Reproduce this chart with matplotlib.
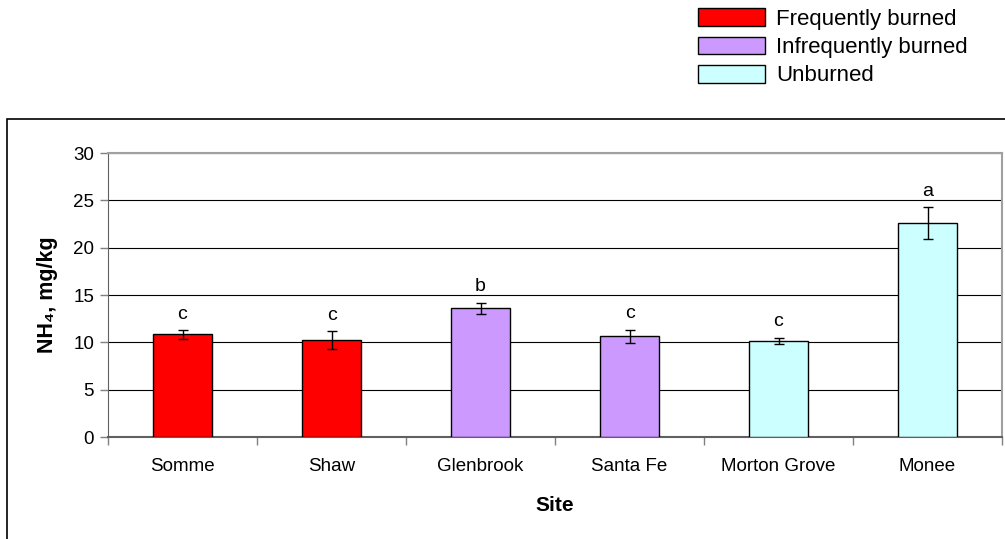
import matplotlib
matplotlib.use("Agg")
import matplotlib.pyplot as plt
from matplotlib.patches import Patch, Rectangle
import numpy as np

# NH4 by site
sites = ["Somme", "Shaw", "Glenbrook", "Santa Fe", "Morton Grove", "Monee"]
nh4 = [10.85, 10.2, 13.6, 10.65, 10.15, 22.6]
nh4_se = [0.45, 0.95, 0.6, 0.7, 0.35, 1.65]
letters = ["c", "c", "b", "c", "c", "a"]
groups = ["Frequently burned", "Frequently burned", "Infrequently burned",
          "Infrequently burned", "Unburned", "Unburned"]

group_names = ["Frequently burned", "Infrequently burned", "Unburned"]
group_colors = {"Frequently burned": "#FF0000",
                "Infrequently burned": "#CC99FF",
                "Unburned": "#CCFFFF"}

plt.rcParams["font.family"] = ["Liberation Sans", "DejaVu Sans"]
plt.rcParams["font.size"] = 13.5

W, H = 1005, 539
fig = plt.figure(figsize=(W / 100, H / 100), dpi=100)

# chart border (runs off the right and bottom edge)
fig.patches.append(Rectangle((7 / W, -0.1), 1.2, 1.1 - 119 / H,
                             transform=fig.transFigure, fill=False,
                             edgecolor="black", linewidth=1.2))

ax = fig.add_axes([108 / W, (H - 437) / H, (1002 - 108) / W, (437 - 153) / H])

x = np.arange(len(sites))
colors = [group_colors[g] for g in groups]
ax.bar(x, nh4, width=0.4, color=colors, edgecolor="black", linewidth=1.0, zorder=3)
ax.errorbar(x, nh4, yerr=nh4_se, fmt="none", ecolor="black", elinewidth=1.0,
            capsize=3.8, capthick=1.0, zorder=4)

for xi, v, e, lab in zip(x, nh4, nh4_se, letters):
    ax.annotate(lab, (xi, v + e), xytext=(0, 11.5), textcoords="offset points",
                ha="center", va="center", fontsize=14)

ax.set_xlim(-0.5, len(sites) - 0.5)
ax.set_ylim(0, 30)
ax.set_yticks(range(0, 31, 5))
ax.yaxis.grid(True, color="black", linewidth=0.8, zorder=0)
ax.set_axisbelow(True)

ax.set_xticks(x)
ax.set_xticklabels(sites)
ax.set_xticks(np.arange(-0.5, len(sites), 1.0), minor=True)
ax.tick_params(axis="x", which="major", length=0, pad=15)
ax.tick_params(axis="x", which="minor", length=6, width=1, color="#808080")
ax.tick_params(axis="y", length=6, width=1, color="#808080", pad=4)

for side in ["top", "right"]:
    ax.spines[side].set_color("#a0a0a0")
    ax.spines[side].set_linewidth(1.5)
ax.spines["left"].set_color("#606060")
ax.spines["bottom"].set_color("#606060")
ax.spines["bottom"].set_linewidth(1.5)

ax.set_xlabel("Site", fontweight="bold", fontsize=15, labelpad=15)
ax.set_ylabel("NH₄, mg/kg", fontweight="bold", fontsize=15.5, labelpad=11)

handles = [Patch(facecolor=group_colors[g], edgecolor="black", linewidth=1.0)
           for g in group_names]
fig.legend(handles, group_names, loc="upper left", fontsize=16,
           bbox_to_anchor=(685 / W, 1 + 5 / H), frameon=False,
           handlelength=3.0, handleheight=0.85, handletextpad=0.5,
           labelspacing=0.3, borderaxespad=0.2)

fig.savefig("out.png", dpi=100)
